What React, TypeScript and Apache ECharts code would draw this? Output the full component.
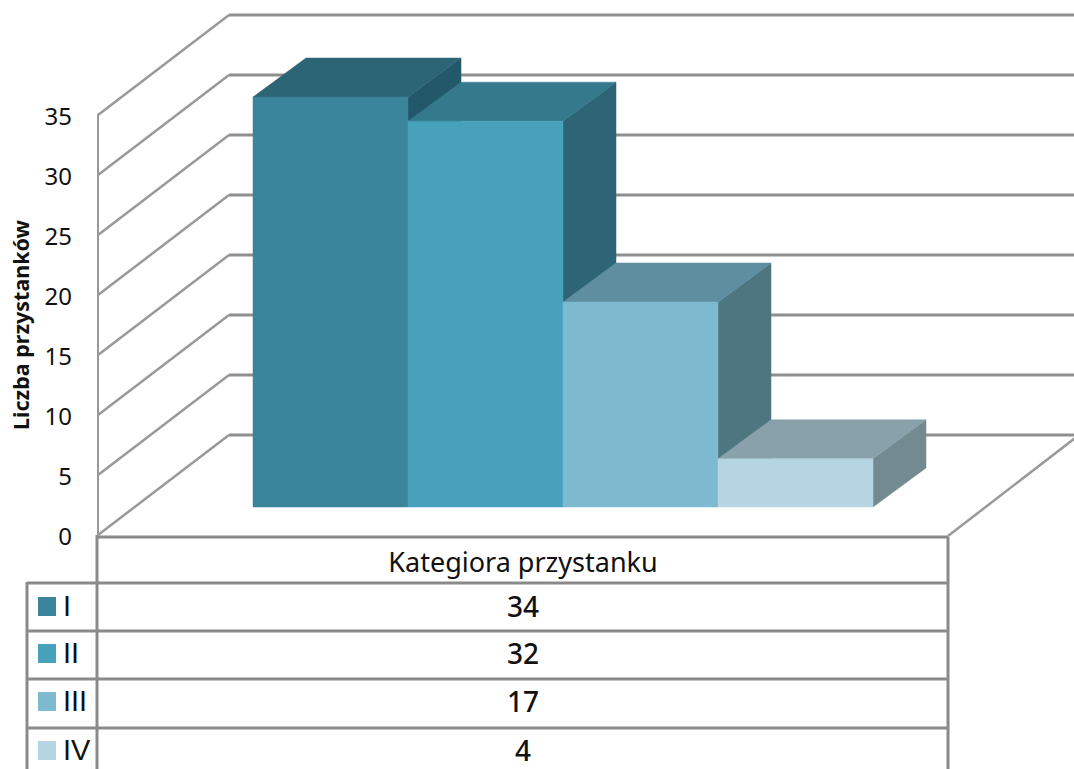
import React, { useEffect, useRef } from "react";
import * as echarts from "echarts";

const groupName = ["Kategiora przystanku"];
const categories = ["I", "II", "III", "IV"];
const values = [34, 32, 17, 4];
const ticks = [0, 5, 10, 15, 20, 25, 30, 35];
const frontColors = ["#3A849C", "#47A1BB", "#7DB9CF", "#B5D5E2"];
const topColors = ["#2C6576", "#34798C", "#5E8E9F", "#88A1AB"];
const sideColors = ["#23586A", "#2D6476", "#4E7680", "#748A91"];

const FONT = "Noto Sans";
const LEGEND_FONT = "Liberation Sans";
const GRID = "#8A8A8A";
const WALL_DX = 131;
const WALL_DY = -100;
const BAR_DX = 53;
const BAR_DY = -39;

const rowLines = [583, 631, 679, 728];
const rowCenters = [608, 655, 703, 752];

const line = (x1: number, y1: number, x2: number, y2: number, lineWidth: number, stroke = GRID) => ({
  type: "line",
  shape: { x1, y1, x2, y2 },
  style: { stroke, lineWidth },
  silent: true,
});

export default function App() {
  const ref = useRef<HTMLDivElement>(null);
  useEffect(() => {
    const chart = echarts.init(ref.current!, undefined, { renderer: "svg" });
    const tableGraphics: any[] = [
      line(98, 537, 948, 537, 3),
      line(97, 535, 97, 769, 3),
      line(27, 582, 27, 769, 3),
      line(948, 537, 948, 769, 3),
      ...rowLines.map((y) => line(27, y, 948, y, 3)),
      ...categories.flatMap((name, i) => [
        {
          type: "rect",
          shape: { x: 38, y: rowCenters[i] - 11, width: 18, height: 19 },
          style: { fill: frontColors[i] },
          silent: true,
        },
        {
          type: "text",
          x: 63,
          y: rowCenters[i] - 2,
          style: {
            text: name,
            fontFamily: LEGEND_FONT,
            fontSize: 29,
            fill: "#111",
            textVerticalAlign: "middle",
          },
          silent: true,
        },
        {
          type: "text",
          x: 523,
          y: rowCenters[i] - 2,
          style: {
            text: String(values[i]),
            fontFamily: FONT,
            fontSize: 28,
            fontWeight: 500,
            fill: "#111",
            textAlign: "center",
            textVerticalAlign: "middle",
          },
          silent: true,
        },
      ]),
    ];

    chart.setOption({
      animation: false,
      backgroundColor: "#fff",
      graphic: { elements: tableGraphics },
      grid: [
        { left: 98, top: 115, width: 850, height: 420 },
        { left: 253, top: 85, width: 620, height: 422 },
      ],
      xAxis: [
        {
          type: "category",
          gridIndex: 0,
          data: groupName,
          axisLine: { show: false },
          axisTick: { show: false },
          axisLabel: { color: "#111", fontFamily: FONT, fontSize: 27, margin: 13 },
        },
        { type: "category", gridIndex: 1, data: categories, show: false },
      ],
      yAxis: [
        {
          type: "value",
          gridIndex: 0,
          min: 0,
          max: 35,
          interval: 5,
          name: "Liczba przystanków",
          nameLocation: "middle",
          nameRotate: 90,
          nameGap: 67,
          nameTextStyle: { color: "#111", fontFamily: FONT, fontWeight: "bold", fontSize: 21.5 },
          axisLine: { show: true, lineStyle: { color: "#999", width: 2 } },
          axisTick: { show: false },
          splitLine: { show: false },
          axisLabel: { color: "#111", fontFamily: FONT, fontSize: 24, margin: 26 },
        },
        { type: "value", gridIndex: 1, min: 0, max: 35, show: false },
      ],
      series: [
        {
          type: "custom",
          xAxisIndex: 0,
          yAxisIndex: 0,
          z: 1,
          silent: true,
          data: ticks.map((t) => [0, t]),
          encode: { x: 0, y: 1 },
          renderItem: (params: any, api: any) => {
            const [, y] = api.coord([0, api.value(1)]);
            const left = params.coordSys.x;
            const right = left + params.coordSys.width;
            const children: any[] = [
              {
                type: "line",
                shape: { x1: left, y1: y, x2: left + WALL_DX, y2: y + WALL_DY },
                style: { stroke: "#999", lineWidth: 2.5 },
              },
              {
                type: "line",
                shape: { x1: left + WALL_DX, y1: y + WALL_DY, x2: right + WALL_DX, y2: y + WALL_DY },
                style: { stroke: "#8F8F8F", lineWidth: 3 },
              },
            ];
            if (api.value(1) === 0) {
              children.push({
                type: "line",
                shape: { x1: right, y1: y + 1, x2: right + WALL_DX, y2: y + WALL_DY },
                style: { stroke: "#999", lineWidth: 2.5 },
              });
            }
            return { type: "group", children };
          },
        },
        {
          type: "custom",
          xAxisIndex: 1,
          yAxisIndex: 1,
          z: 2,
          silent: true,
          data: categories.map((_, i) => [i, values[i]]),
          encode: { x: 0, y: 1 },
          renderItem: (params: any, api: any) => {
            const i = params.dataIndex;
            const [cx, top] = api.coord([i, api.value(1)]);
            const [, base] = api.coord([i, 0]);
            const w = api.size([1, 0])[0];
            const l = cx - w / 2;
            const r = cx + w / 2;
            const poly = (points: number[][], fill: string) => ({
              type: "polygon",
              shape: { points },
              style: { fill, stroke: fill, lineWidth: 0.5 },
            });
            return {
              type: "group",
              children: [
                poly(
                  [
                    [r, top],
                    [r + BAR_DX, top + BAR_DY],
                    [r + BAR_DX, base + BAR_DY],
                    [r, base],
                  ],
                  sideColors[i]
                ),
                poly(
                  [
                    [l, top],
                    [l + BAR_DX, top + BAR_DY],
                    [r + BAR_DX, top + BAR_DY],
                    [r, top],
                  ],
                  topColors[i]
                ),
                poly(
                  [
                    [l, top],
                    [r, top],
                    [r, base],
                    [l, base],
                  ],
                  frontColors[i]
                ),
              ],
            };
          },
        },
      ],
    });
    return () => chart.dispose();
  }, []);
  return <div ref={ref} style={{ position: "fixed", left: 0, top: 0, width: 1074, height: 769 }} />;
}
